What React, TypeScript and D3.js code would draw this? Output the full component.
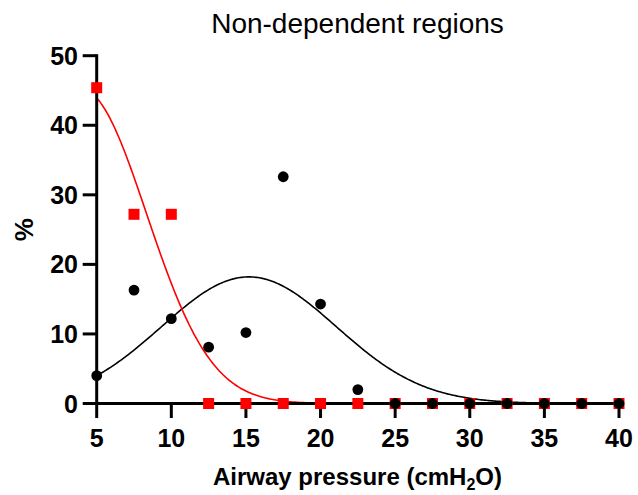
import React from "react";
import * as d3 from "d3";

const pressures = [5, 7.5, 10, 12.5, 15, 17.5, 20, 22.5, 25, 27.5, 30, 32.5, 35, 37.5, 40];
const blackValues = [4.0, 16.3, 12.2, 8.1, 10.2, 32.6, 14.3, 2.0, 0, 0, 0, 0, 0, 0, 0];
const redValues = [45.4, 27.2, 27.2, 0, 0, 0, 0, 0, 0, 0, 0, 0, 0, 0, 0];
// Gaussian fit parameters [amplitude, mean, sd]
const blackFit = [18.2, 15.2, 5.86];
const redFit = [45.1, 4.0, 4.33];
const xTicks = [5, 10, 15, 20, 25, 30, 35, 40];
const yTicks = [0, 10, 20, 30, 40, 50];

const W = 638;
const H = 495;
const FONT = "'Liberation Sans', Arial, sans-serif";

export default function App() {
  const x = d3.scaleLinear().domain([5, 40]).range([96.7, 619]);
  const y = d3.scaleLinear().domain([0, 50]).range([403.5, 55.7]);

  const gauss = (p: number[]) => (v: number) =>
    p[0] * Math.exp(-((v - p[1]) ** 2) / (2 * p[2] * p[2]));
  const xs = d3.range(5, 40.001, 0.1);
  const line = d3
    .line<number>()
    .x((d) => x(d))
    .curve(d3.curveLinear);
  const blackPath = line.y((d) => y(gauss(blackFit)(d)))(xs) || "";
  const redPath = line.y((d) => y(gauss(redFit)(d)))(xs) || "";

  return (
    <svg
      width={W}
      height={H}
      style={{ position: "absolute", left: 0, top: 0, background: "#fff" }}
      fontFamily={FONT}
    >
      <text x={357.5} y={33} textAnchor="middle" fontSize={28} fill="#000">
        Non-dependent regions
      </text>

      {/* curves */}
      <path d={blackPath} fill="none" stroke="#000" strokeWidth={1.6} />
      <path d={redPath} fill="none" stroke="#ff0000" strokeWidth={1.6} />

      {/* axes */}
      <line x1={x(5)} x2={x(40) + 1.5} y1={y(0)} y2={y(0)} stroke="#000" strokeWidth={3} />
      <line x1={x(5)} x2={x(5)} y1={y(0) + 1.5} y2={y(50) - 1.5} stroke="#000" strokeWidth={3} />
      {yTicks.map((t) => (
        <g key={"y" + t}>
          <line x1={x(5) - 14} x2={x(5)} y1={y(t)} y2={y(t)} stroke="#000" strokeWidth={3} />
          <text
            x={78}
            y={y(t) + 9}
            textAnchor="end"
            fontSize={25}
            fontWeight="bold"
            fill="#000"
          >
            {t}
          </text>
        </g>
      ))}
      {xTicks.map((t) => (
        <g key={"x" + t}>
          <line x1={x(t)} x2={x(t)} y1={y(0)} y2={y(0) + 14.5} stroke="#000" strokeWidth={3} />
          <text
            x={x(t)}
            y={447}
            textAnchor="middle"
            fontSize={25}
            fontWeight="bold"
            fill="#000"
          >
            {t}
          </text>
        </g>
      ))}

      {/* points */}
      {pressures.map((p, i) => (
        <rect
          key={"r" + i}
          x={x(p) - 5.5}
          y={y(redValues[i]) - 5.5}
          width={11}
          height={11}
          fill="#ff0000"
        />
      ))}
      {pressures.map((p, i) => (
        <circle key={"b" + i} cx={x(p)} cy={y(blackValues[i])} r={5.4} fill="#000" />
      ))}

      {/* axis titles */}
      <text x={357.5} y={485} textAnchor="middle" fontSize={24} fontWeight="bold" fill="#000">
        Airway pressure (cmH
        <tspan fontSize={16} dy={5}>
          2
        </tspan>
        <tspan dy={-5}>O)</tspan>
      </text>
      <text
        transform={`translate(33,${(y(0) + y(50)) / 2}) rotate(-90)`}
        textAnchor="middle"
        fontSize={26}
        fontWeight="bold"
        fill="#000"
      >
        %
      </text>
    </svg>
  );
}
